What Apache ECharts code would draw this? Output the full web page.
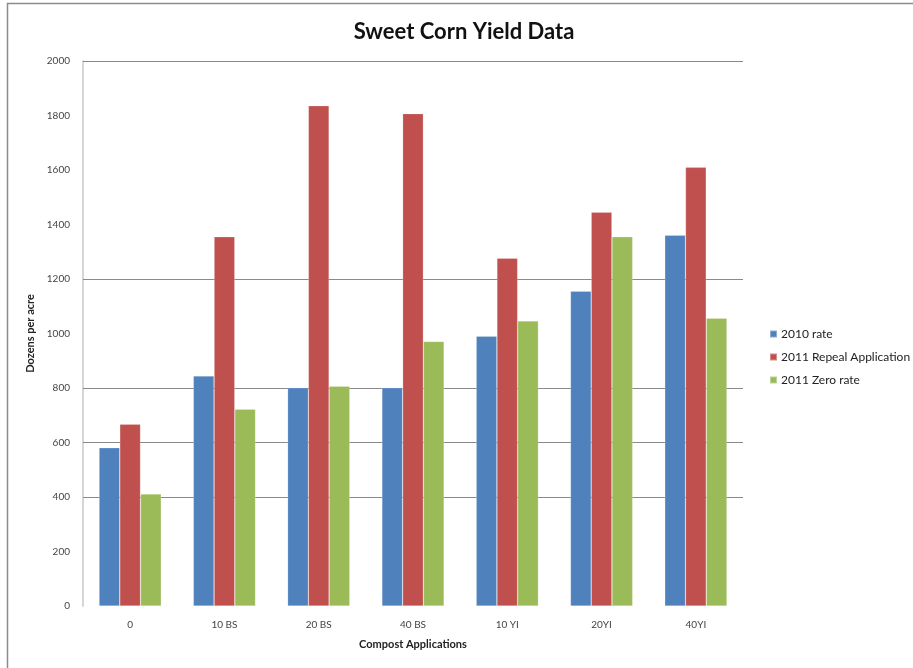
<!DOCTYPE html>
<html>
<head>
<meta charset="utf-8">
<title>Sweet Corn Yield Data</title>
<script src="https://cdn.jsdelivr.net/npm/echarts@6/dist/echarts.min.js"></script>
<style>
  html, body { margin: 0; padding: 0; background: #ffffff; }
  #chart { width: 913px; height: 668px; }
</style>
</head>
<body>
<div id="chart"></div>
<script>
// Compost application treatments
const categories = ['0', '10 BS', '20 BS', '40 BS', '10 YI', '20YI', '40YI'];

// Sweet corn yield, dozens per acre
const rate2010 = [581, 844, 801, 801, 990, 1155, 1361];
const repeat2011 = [667, 1355, 1836, 1807, 1276, 1445, 1610];
const zero2011 = [411, 722, 807, 971, 1046, 1355, 1056];

const seriesNames = ['2010 rate', '2011 Repeal Application', '2011 Zero rate'];
const seriesColors = ['#4F81BD', '#C0504D', '#9BBB59'];

// Horizontal guide lines drawn across the plot
const guideValues = [400, 600, 800, 1200, 2000];

const yMin = 0, yMax = 2000, yStep = 200;

const font = 'Lato, "Open Sans", sans-serif';

const chart = echarts.init(document.getElementById('chart'), null, { renderer: 'canvas' });

const seriesData = [rate2010, repeat2011, zero2011];

const series = seriesData.map((values, i) => ({
  name: seriesNames[i],
  type: 'bar',
  data: values,
  barGap: '0%',
  barCategoryGap: '34%',
  itemStyle: {
    color: seriesColors[i],
    borderColor: 'rgba(255,255,255,0.35)',
    borderWidth: 0.6
  },
  z: 2
}));

// Guide lines sit behind the bars
series[0].markLine = {
  silent: true,
  symbol: ['none', 'none'],
  label: { show: false },
  z: 1,
  lineStyle: { color: '#8a8a8a', width: 1, type: 'solid' },
  emphasis: { disabled: true },
  animation: false,
  data: guideValues.map(v => ({ yAxis: v }))
};

chart.setOption({
  animation: false,
  backgroundColor: '#ffffff',
  title: {
    text: 'Sweet Corn Yield Data',
    left: 459,
    top: 16,
    textAlign: 'center',
    textStyle: {
      fontFamily: font,
      fontSize: 22,
      fontWeight: 'bold',
      color: '#111111'
    }
  },
  legend: {
    orient: 'vertical',
    left: 764,
    top: 323,
    itemWidth: 7,
    itemHeight: 7,
    itemGap: 11,
    icon: 'rect',
    data: seriesNames,
    textStyle: {
      fontFamily: font,
      fontSize: 12,
      color: '#222222',
      padding: [0, 0, 0, -1]
    }
  },
  grid: {
    left: 83,
    right: 170,
    top: 61,
    bottom: 62,
    containLabel: false
  },
  xAxis: {
    type: 'category',
    data: categories,
    name: 'Compost Applications',
    nameLocation: 'middle',
    nameGap: 33,
    nameTextStyle: {
      fontFamily: font,
      fontSize: 11,
      fontWeight: 'bold',
      color: '#222222'
    },
    axisLine: { show: false },
    axisTick: { show: false },
    axisLabel: {
      fontFamily: font,
      fontSize: 10,
      color: '#444444',
      margin: 14
    }
  },
  yAxis: {
    type: 'value',
    min: yMin,
    max: yMax,
    interval: yStep,
    name: 'Dozens per acre',
    nameLocation: 'middle',
    nameGap: 41,
    nameTextStyle: {
      fontFamily: font,
      fontSize: 11,
      fontWeight: 'bold',
      color: '#222222'
    },
    axisLine: { show: true, lineStyle: { color: '#d6d6d6', width: 2 } },
    axisTick: { show: false },
    splitLine: { show: false },
    axisLabel: {
      fontFamily: font,
      fontSize: 10,
      color: '#444444',
      margin: 13,
      formatter: v => String(v)
    }
  },
  graphic: [
    {
      // outer frame of the chart area
      type: 'rect',
      left: 5,
      top: 1,
      shape: { width: 1200, height: 900 },
      style: { fill: 'none', stroke: '#8c8c8c', lineWidth: 1.5 },
      silent: true,
      z: 10
    }
  ],
  series: series
});
</script>
</body>
</html>
